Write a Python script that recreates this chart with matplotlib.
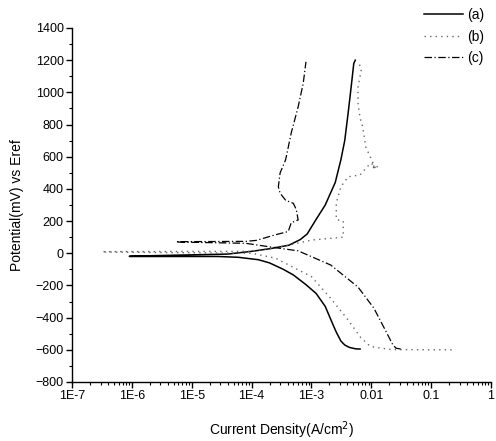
import numpy as np
import matplotlib
matplotlib.use("Agg")
import matplotlib.pyplot as plt
from matplotlib.ticker import FixedLocator, LogLocator, MultipleLocator, NullFormatter

plt.rcParams['font.family'] = ['Liberation Sans', 'DejaVu Sans']

# ---------------------- Data ----------------------

# (a) solid: cathodic branch up to Ecorr, then anodic branch
a_i = [6.5e-3, 5.5e-3, 4.3e-3, 3.6e-3, 3.1e-3, 2.6e-3, 2.3e-3, 1.7e-3, 1.2e-3, 8.1e-4, 5.0e-4,
       3.4e-4, 2.0e-4, 1.3e-4, 6.0e-5, 2.8e-5, 9.1e-7,
       9.1e-7, 4.0e-5, 1.0e-4, 2.0e-4, 4.2e-4, 6.5e-4, 8.5e-4, 1.15e-3, 1.7e-3, 2.5e-3, 3.1e-3,
       3.6e-3, 4.1e-3, 4.6e-3, 5.1e-3, 5.4e-3]
a_e = [-595, -594, -585, -570, -545, -490, -445, -330, -250, -195, -135,
       -100, -60, -40, -25, -20, -20,
       -18, -5, 12, 28, 50, 85, 120, 200, 300, 440, 580,
       700, 870, 1030, 1180, 1200]

# (b) dotted
b_i = [0.22, 0.087, 0.021, 9.7e-3, 6.7e-3, 4.1e-3, 2.1e-3, 1.0e-3, 2.5e-4, 1.0e-4, 3.2e-7,
       3.2e-7, 1.0e-4, 2.0e-4, 4.1e-4, 1.0e-3, 3.4e-3, 3.4e-3, 2.6e-3, 2.6e-3, 3.1e-3,
       4.1e-3, 6.5e-3, 9.7e-3, 1.3e-2, 1.0e-2, 1.2e-2, 8.1e-3, 7.2e-3, 6.5e-3, 6.0e-3,
       6.0e-3, 6.8e-3, 6.2e-3]
b_e = [-600, -600, -598, -580, -525, -415, -280, -145, -30, 0, 8,
       10, 12, 30, 50, 82, 100, 200, 210, 313, 413,
       475, 487, 560, 535, 545, 520, 660, 785, 840, 933,
       1033, 1140, 1185]

# (c) dash-dot
c_i = [3.1e-2, 2.6e-2, 2.3e-2, 1.7e-2, 1.1e-2, 6.0e-3, 2.1e-3, 6.0e-4, 2.0e-4, 8.0e-5, 5.5e-6,
       5.5e-6, 8.0e-5, 1.2e-4, 2.5e-4, 4.1e-4, 4.6e-4, 6.0e-4, 5.6e-4, 5.0e-4, 3.7e-4,
       3.0e-4, 2.8e-4, 3.0e-4, 3.7e-4, 4.6e-4, 6.0e-4, 7.3e-4, 8.1e-4]
c_e = [-595, -590, -570, -475, -340, -210, -73, 15, 40, 62, 70,
       72, 74, 80, 115, 135, 190, 207, 270, 310, 330,
       373, 413, 500, 580, 748, 910, 1057, 1190]

y_ticks = list(range(-800, 1401, 200))
x_ticks = [1e-7, 1e-6, 1e-5, 1e-4, 1e-3, 1e-2, 1e-1, 1]
x_labels = ["1E-7", "1E-6", "1E-5", "1E-4", "1E-3", "0.01", "0.1", "1"]

# ---------------------- Plot ----------------------

fig = plt.figure(figsize=(4.96, 4.41), dpi=100)
ax = fig.add_axes([72 / 496, 1 - 382 / 441, (491 - 72) / 496, (382 - 28) / 441])

ax.plot(a_i, a_e, color="black", lw=1.1, ls="-", label="(a)")
ax.plot(b_i, b_e, color="#666666", lw=1.0, ls=(0, (1, 3)), label="(b)")
ax.plot(c_i, c_e, color="black", lw=0.9, ls=(0, (6, 2, 1, 2)), label="(c)")

ax.set_xscale("log")
ax.set_xlim(1e-7, 1)
ax.set_ylim(-800, 1400)

ax.xaxis.set_major_locator(FixedLocator(x_ticks))
ax.set_xticklabels(x_labels)
ax.xaxis.set_minor_locator(LogLocator(base=10, subs=np.arange(2, 10)))
ax.xaxis.set_minor_formatter(NullFormatter())
ax.yaxis.set_major_locator(FixedLocator(y_ticks))
ax.yaxis.set_minor_locator(MultipleLocator(100))

ax.spines["top"].set_visible(False)
ax.spines["right"].set_visible(False)
for s in ("left", "bottom"):
    ax.spines[s].set_linewidth(1.0)
ax.tick_params(which="major", direction="out", length=4, width=1.0, labelsize=9, pad=2)
ax.tick_params(which="minor", direction="out", length=2.5, width=0.8)

ax.set_xlabel("Current Density(A/cm$^2$)", fontsize=10, labelpad=12)
ax.set_ylabel("Potential(mV) vs Eref", fontsize=10, labelpad=8)

ax.legend(loc="upper right", bbox_to_anchor=(484 / 496, 1 - 8 / 441),
          bbox_transform=fig.transFigure, frameon=False, fontsize=10,
          handlelength=2.8, handletextpad=0.3, labelspacing=0.55,
          borderpad=0, borderaxespad=0)

fig.savefig("out.png", dpi=100)
